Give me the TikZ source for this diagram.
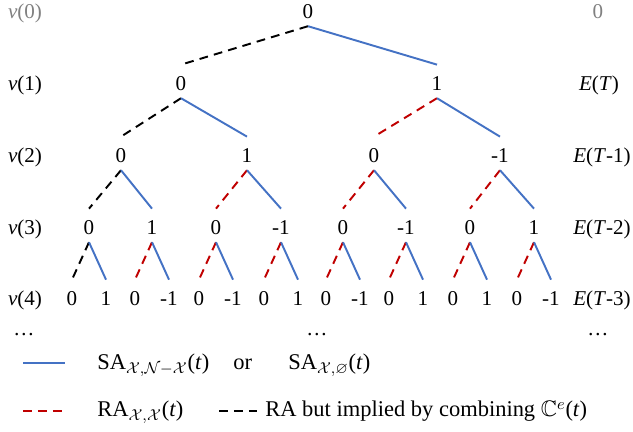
\documentclass[tikz,border=0pt]{standalone}
\usepackage{amssymb}
\usepackage{fontspec}
\setmainfont{Liberation Serif}
\definecolor{sablue}{RGB}{68,114,196}
\definecolor{rared}{RGB}{192,0,0}
\tikzset{
    val/.style={inner sep=1pt, text height=13.8pt, text depth=2.9pt, anchor=base},
    side/.style={inner sep=0pt, anchor=base},
    leg/.style={inner sep=0pt, anchor=base west, font=\fontsize{12.8}{15}\selectfont},
    sa/.style={draw=sablue, line width=1.1pt},
    ra/.style={draw=rared, line width=1.1pt, dash pattern=on 5pt off 3.5pt},
    imp/.style={draw=black, line width=1.1pt, dash pattern=on 5pt off 3.5pt},
}
\begin{document}
\begin{tikzpicture}[x=0.02cm, y=-0.02cm, font=\fontsize{12}{14}\selectfont]
    \useasboundingbox (0,0) rectangle (633,432);

    % Etichette a sinistra e a destra
    \node[side, text=gray] (vz) at (25,19) {\textit{v}(0)};
    \node[side] (vo) at (25,91) {\textit{v}(1)};
    \node[side] (vt) at (25,163) {\textit{v}(2)};
    \node[side] (vh) at (25,235) {\textit{v}(3)};
    \node[side] (vf) at (25,306) {\textit{v}(4)};
    \node[side] (vd) at (24,336) {…};
    \node[side, text=gray] (ez) at (598,19) {0};
    \node[side] (eo) at (599,91) {\textit{E}(\textit{T})};
    \node[side] (et) at (602,163) {\textit{E}(\textit{T}-1)};
    \node[side] (eh) at (602,235) {\textit{E}(\textit{T}-2)};
    \node[side] (ef) at (602,306) {\textit{E}(\textit{T}-3)};
    \node[side] (ed) at (598,336) {…};
    \node[side] (md) at (317,336) {…};

    % Albero
    \node[val] (r) at (308,19) {0};
    \node[val] (a) at (181,91) {0};
    \node[val] (b) at (437,91) {1};
    \node[val] (aa) at (121,163) {0};
    \node[val] (ab) at (247,163) {1};
    \node[val] (ba) at (374,163) {0};
    \node[val] (bb) at (500,163) {-1};
    \node[val] (aaa) at (89,235) {0};
    \node[val] (aab) at (152,235) {1};
    \node[val] (aba) at (216,235) {0};
    \node[val] (abb) at (281,235) {-1};
    \node[val] (baa) at (343,235) {0};
    \node[val] (bab) at (406,235) {-1};
    \node[val] (bba) at (470,235) {0};
    \node[val] (bbb) at (534,235) {1};

    \draw[imp] (r.south) -- (a.north);
    \draw[sa] (r.south) -- (b.north);
    \draw[imp] (a.south) -- (aa.north);
    \draw[sa] (a.south) -- (ab.north);
    \draw[ra] (b.south) -- (ba.north);
    \draw[sa] (b.south) -- (bb.north);
    \draw[imp] (aa.south) -- (aaa.north);
    \draw[sa] (aa.south) -- (aab.north);
    \draw[ra] (ab.south) -- (aba.north);
    \draw[sa] (ab.south) -- (abb.north);
    \draw[ra] (ba.south) -- (baa.north);
    \draw[sa] (ba.south) -- (bab.north);
    \draw[ra] (bb.south) -- (bba.north);
    \draw[sa] (bb.south) -- (bbb.north);

    % Foglie
    \foreach \p/\v/\s in {aaa/1/imp, aab/-1/ra, aba/-1/ra, abb/1/ra, baa/-1/ra, bab/1/ra, bba/1/ra, bbb/-1/ra} {
        \node[val] (\p l) at ([xshift=-17*0.02cm]\p.base |- 0,306) {0};
        \node[val] (\p r) at ([xshift=17*0.02cm]\p.base |- 0,306) {\v};
        \draw[\s] (\p.south) -- (\p l.north);
        \draw[sa] (\p.south) -- (\p r.north);
    }

    % Legenda
    \draw[sa] (23,363) -- (65,363);
    \node[leg] (saa) at (97,370) {SA$_{\mathcal{X},\mathcal{N}-\mathcal{X}}$(\textit{t})};
    \node[leg] (or) at (233,370) {or};
    \node[leg] (sab) at (288,370) {SA$_{\mathcal{X},\varnothing}$(\textit{t})};
    \draw[ra] (23,411) -- (64,411);
    \node[leg] (raa) at (97,417) {RA$_{\mathcal{X},\mathcal{X}}$(\textit{t})};
    \draw[imp] (219,411) -- (257,411);
    \node[leg] (rab) at (265,417) {RA but implied by combining $\mathbb{C}^e$(\textit{t})};
\end{tikzpicture}
\end{document}
